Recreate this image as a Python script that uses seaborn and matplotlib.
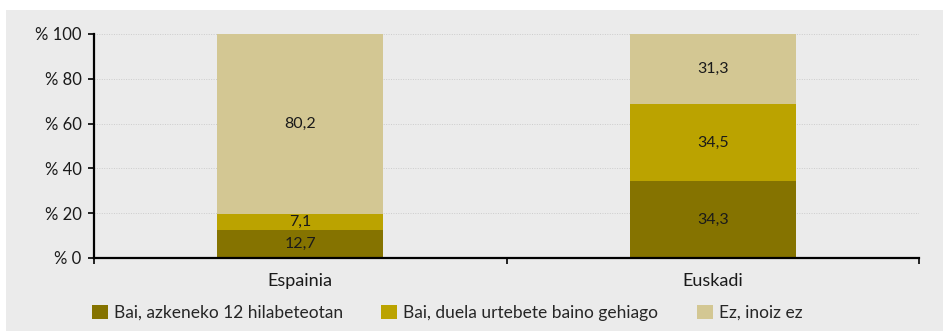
import matplotlib
matplotlib.use("Agg")
import matplotlib.pyplot as plt
import seaborn as sns
import pandas as pd
import numpy as np
from matplotlib.patches import Rectangle, Patch

regions = ["Espainia", "Euskadi"]
series_names = ["Bai, azkeneko 12 hilabeteotan", "Bai, duela urtebete baino gehiago", "Ez, inoiz ez"]
last_12_months = [12.7, 34.3]
over_a_year_ago = [7.1, 34.5]
never = [80.2, 31.3]
y_ticks = [0, 20, 40, 60, 80, 100]
y_tick_labels = ["% 0", "% 20", "% 40", "% 60", "% 80", "% 100"]

colors = ["#857300", "#BBA300", "#D3C793"]
bg = "#EBEBEB"
text_color = "#1a1a1a"

sns.set_theme(style="white")
plt.rcParams["font.family"] = ["Lato", "DejaVu Sans"]

fig = plt.figure(figsize=(9.43, 3.32), dpi=100)
fig.patch.set_facecolor("white")
panel = Rectangle((6 / 943, 1 - 331 / 332), 937 / 943, 321 / 332,
                  transform=fig.transFigure, facecolor=bg, edgecolor="none", zorder=-10)
fig.add_artist(panel)

ax = fig.add_axes([94 / 943, 1 - 258 / 332, (919 - 94) / 943, (258 - 34) / 332])
ax.set_zorder(1)
ax.set_facecolor(bg)

series = [last_12_months, over_a_year_ago, never]
cum = np.cumsum(np.array(series), axis=0)

# stacked bars: draw cumulative totals from the top layer down
for i in range(len(series) - 1, -1, -1):
    df = pd.DataFrame({"region": regions, "value": cum[i]})
    sns.barplot(data=df, x="region", y="value", color=colors[i], width=0.403,
                saturation=1, ax=ax, zorder=2, linewidth=0)

for i, vals in enumerate(series):
    base = cum[i] - np.array(vals)
    for j, v in enumerate(vals):
        ax.text(j, base[j] + v / 2, f"{v:.1f}".replace(".", ","),
                ha="center", va="center", fontsize=11.5, color=text_color, zorder=3)

ax.set_ylim(0, 100)
ax.set_xlim(-0.5, 1.5)
ax.set_yticks(y_ticks)
ax.set_yticklabels(y_tick_labels, fontsize=12, color=text_color)
ax.set_xticks([0, 1])
ax.set_xticklabels(regions, fontsize=13, color=text_color)
ax.set_xlabel("")
ax.set_ylabel("")
for y in y_ticks[1:]:
    ax.axhline(y, color="#cccccc", linestyle=(0, (1, 1.5)), linewidth=0.7, zorder=1)

for s in ["top", "right"]:
    ax.spines[s].set_visible(False)
for s in ["left", "bottom"]:
    ax.spines[s].set_color("black")
    ax.spines[s].set_linewidth(1.6)
ax.tick_params(axis="y", which="both", left=True, length=4, width=1.2, color="black", pad=5)
ax.tick_params(axis="x", which="major", bottom=False, pad=5)
# category boundary ticks on the x axis
ax.set_xticks([-0.5, 0.5, 1.5], minor=True)
ax.tick_params(axis="x", which="minor", bottom=True, length=4, width=1.2, color="black")

handles = [Patch(facecolor=c, edgecolor="none") for c in colors]
fig.legend(handles, series_names, loc="center left", bbox_to_anchor=(92 / 943, 1 - 313 / 332),
           ncol=3, frameon=False, fontsize=12.5, handlelength=0.92, handleheight=0.9,
           handletextpad=0.35, columnspacing=2.2, borderaxespad=0, borderpad=0)

fig.savefig("out.png", dpi=100, facecolor=fig.get_facecolor())
